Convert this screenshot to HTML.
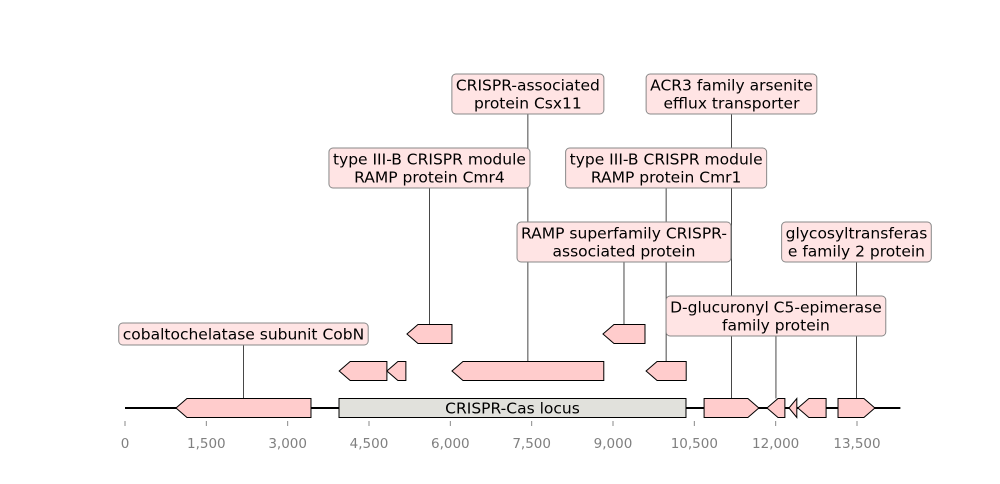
<!DOCTYPE html>
<html><head><meta charset="utf-8"><style>
body{margin:0;background:#fff;width:1000px;height:480px;overflow:hidden;font-family:"DejaVu Sans","Liberation Sans",sans-serif}
svg text{font-family:"DejaVu Sans","Liberation Sans",sans-serif}
</style></head><body>
<svg id="chart" width="1000" height="480" xmlns="http://www.w3.org/2000/svg">
<g id="lines"></g><g id="feats"></g><g id="axis"></g><g id="labels"></g>
</svg>
<script>
const featStart=[940,3947,3950,4830,6030,9610,5200,8815,10680,11840,12245,12410,13150];
const featEnd=[3430,10346,4830,5180,8830,10350,6030,9590,11690,12170,12390,12930,13830];
const featStrand=[-1,0,-1,-1,-1,-1,-1,-1,1,-1,-1,-1,1];
const featRow=[0,0,1,1,1,1,2,2,0,0,0,0,0];
const featLabel=["cobaltochelatase subunit CobN","CRISPR-Cas locus","","","CRISPR-associated|protein Csx11","type III-B CRISPR module|RAMP protein Cmr1","type III-B CRISPR module|RAMP protein Cmr4","RAMP superfamily CRISPR-|associated protein","ACR3 family arsenite|efflux transporter","D-glucuronyl C5-epimerase|family protein","","","glycosyltransferas|e family 2 protein"];
const labelLevel=[0,-1,-1,-1,4,3,3,2,4,1,-1,-1,2];
const ticks=[0,1500,3000,4500,6000,7500,9000,10500,12000,13500];
const seqLen=14300;
const NS="http://www.w3.org/2000/svg";
const sx=bp=>125+bp*732/13500;
const rowY=r=>408-r*37;
const levelY=l=>[334,316,242,168,94][l];
function mk(t,a,p){const e=document.createElementNS(NS,t);for(const k in a)e.setAttribute(k,a[k]);p.appendChild(e);return e;}
const gL=document.getElementById('lines'),gF=document.getElementById('feats'),gA=document.getElementById('axis'),gT=document.getElementById('labels');
const base=mk('line',{x1:125,x2:sx(seqLen),y1:408,y2:408,stroke:'#000','stroke-width':2},gL);


const h=9.5;
featStart.forEach((s,i)=>{
 const x1=sx(s),x2=sx(featEnd[i]),y=rowY(featRow[i]);
 const hl=Math.min(11,(x2-x1));
 let pts;
 if(featStrand[i]<0)pts=[[x1,y],[x1+hl,y-h],[x2,y-h],[x2,y+h],[x1+hl,y+h]];
 else if(featStrand[i]>0)pts=[[x2,y],[x2-hl,y-h],[x1,y-h],[x1,y+h],[x2-hl,y+h]];
 else pts=[[x1,y-h],[x2,y-h],[x2,y+h],[x1,y+h]];
 const p=mk('polygon',{points:pts.map(q=>q.join(',')).join(' '),fill:featStrand[i]==0?'#e1e1dc':'#ffcccc',stroke:'#000','stroke-width':1},gF);
 
 
 if(featStrand[i]==0){
  const t=mk('text',{x:(x1+x2)/2,y:y+5.5,'text-anchor':'middle','font-size':15.5,fill:'#000'},gT);t.textContent=featLabel[i];
  
  
  return;
 }
 if(labelLevel[i]<0)return;
 const cx=(x1+x2)/2,ly=levelY(labelLevel[i]);
 const ln=mk('line',{x1:cx,x2:cx,y1:y-h,y2:ly,stroke:'#333','stroke-width':0.9},gL);
 
 
 const lines=featLabel[i].split('|');
 const g=mk('g',{},gT);
 
 
 const r=mk('rect',{rx:4,ry:4,fill:'#ffe4e4',stroke:'#888','stroke-width':1},g);
 const tx=[];
 lines.forEach((s2,k)=>{const t=mk('text',{x:cx,y:ly+5.5+(k-(lines.length-1)/2)*18,'text-anchor':'middle','font-size':15.5,fill:'#000'},g);t.textContent=s2;tx.push(t);});
 let w=0;tx.forEach(t=>w=Math.max(w,t.getComputedTextLength()));
 const bh=lines.length*18+4;
 r.setAttribute('x',cx-w/2-4);r.setAttribute('width',w+8);r.setAttribute('y',ly-bh/2);r.setAttribute('height',bh);
});
ticks.forEach(v=>{
 const x=sx(v);
 const l=mk('line',{x1:x,x2:x,y1:421,y2:426,stroke:'#888','stroke-width':1},gA);
 
 
 const t=mk('text',{x:x,y:448,'text-anchor':'middle','font-size':13.5,fill:'#808080'},gA);
 t.textContent=v.toLocaleString('en-US');
 
 
});
</script>
</body></html>
